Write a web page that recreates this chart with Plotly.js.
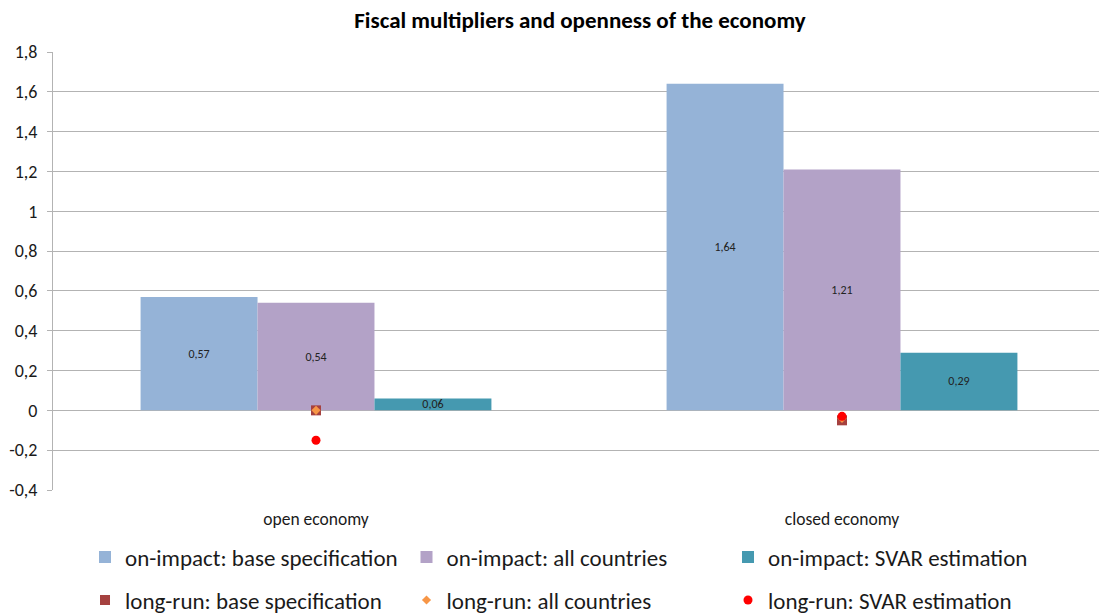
<!DOCTYPE html>
<html>
<head>
<meta charset="utf-8">
<script src="https://cdn.plot.ly/plotly-3.0.1.min.js"></script>
<style>html,body{margin:0;padding:0;background:#fff;}#chart{width:1099px;height:614px;}</style>
</head>
<body>
<div id="chart"></div>
<script>
var categories = ["open economy", "closed economy"];
var impactBase = [0.57, 1.64];
var impactAll = [0.54, 1.21];
var impactSVAR = [0.06, 0.29];
var longBase = [0.0, -0.05];
var longAll = [0.0, -0.04];
var longSVAR = [-0.15, -0.03];
var yTickVals = [-0.4, -0.2, 0, 0.2, 0.4, 0.6, 0.8, 1, 1.2, 1.4, 1.6, 1.8];
var yTickText = ["-0,4", "-0,2", "0", "0,2", "0,4", "0,6", "0,8", "1", "1,2", "1,4", "1,6", "1,8"];

var font = "Calibri, Carlito, 'Liberation Sans', 'Open Sans', sans-serif";

function barTrace(name, vals, color) {
  return {
    type: "bar", name: name, x: categories, y: vals, legend: "legend",
    marker: {color: color, line: {width: 0}},
    texttemplate: "%{y:.2f}", textposition: "inside", insidetextanchor: "middle",
    constraintext: "none", cliponaxis: false,
    textfont: {size: 12, color: "#222222", family: font}
  };
}
function ptTrace(name, vals, color, symbol, size) {
  return {
    type: "scatter", mode: "markers", name: name, x: categories, y: vals, legend: "legend2",
    marker: {color: color, symbol: symbol, size: size, line: {width: 0}},
    cliponaxis: false
  };
}

var data = [
  barTrace("on-impact: base specification", impactBase, "#95B3D7"),
  barTrace("on-impact: all countries", impactAll, "#B3A2C7"),
  barTrace("on-impact: SVAR estimation", impactSVAR, "#4599B0"),
  ptTrace("long-run: base specification", longBase, "#A5413F", "square", 10),
  ptTrace("long-run: all countries", longAll, "#F79646", "diamond", 7),
  ptTrace("long-run: SVAR estimation", longSVAR, "#FF0000", "circle", 9)
];

var legendCommon = {
  orientation: "h", x: 0.0306, xanchor: "left", yref: "container", yanchor: "middle",
  entrywidth: 276.5, entrywidthmode: "pixels",
  font: {size: 23, color: "#1a1a1a", family: font},
  itemwidth: 30, traceorder: "normal", bgcolor: "rgba(0,0,0,0)"
};

var layout = {
  width: 1099, height: 614,
  margin: {l: 53, r: 0, t: 52, b: 124},
  paper_bgcolor: "#ffffff", plot_bgcolor: "#ffffff",
  separators: ", ",
  barmode: "group", bargap: 0.333, bargroupgap: 0,
  showlegend: true,
  font: {family: font, color: "#1a1a1a"},
  title: {
    text: "<b>Fiscal multipliers and openness of the economy</b>",
    x: 0.5038, xref: "paper", xanchor: "center", y: 0.967, yref: "container", yanchor: "middle",
    font: {size: 23, family: font, color: "#000000"}
  },
  xaxis: {
    type: "category", range: [-0.5, 1.4886], showgrid: false, zeroline: false, showline: false,
    ticks: "", tickfont: {size: 17.5, color: "#1a1a1a", family: font},
    ticklabelstandoff: 16, fixedrange: true
  },
  yaxis: {
    range: [-0.4, 1.8], tickvals: yTickVals, ticktext: yTickText,
    showgrid: true, gridcolor: "#B3B3B3", gridwidth: 1,
    zeroline: true, zerolinecolor: "#B3B3B3", zerolinewidth: 1,
    showline: true, linecolor: "#B3B3B3", linewidth: 1,
    ticks: "outside", ticklen: 5, tickcolor: "#B3B3B3",
    tickfont: {size: 18, color: "#1a1a1a", family: font},
    ticklabelstandoff: 6, fixedrange: true
  },
  legend: Object.assign({}, legendCommon, {y: 1 - 557 / 614}),
  legend2: Object.assign({}, legendCommon, {y: 1 - 600 / 614})
};

Plotly.newPlot("chart", data, layout, {displayModeBar: false, staticPlot: true});
</script>
</body>
</html>
